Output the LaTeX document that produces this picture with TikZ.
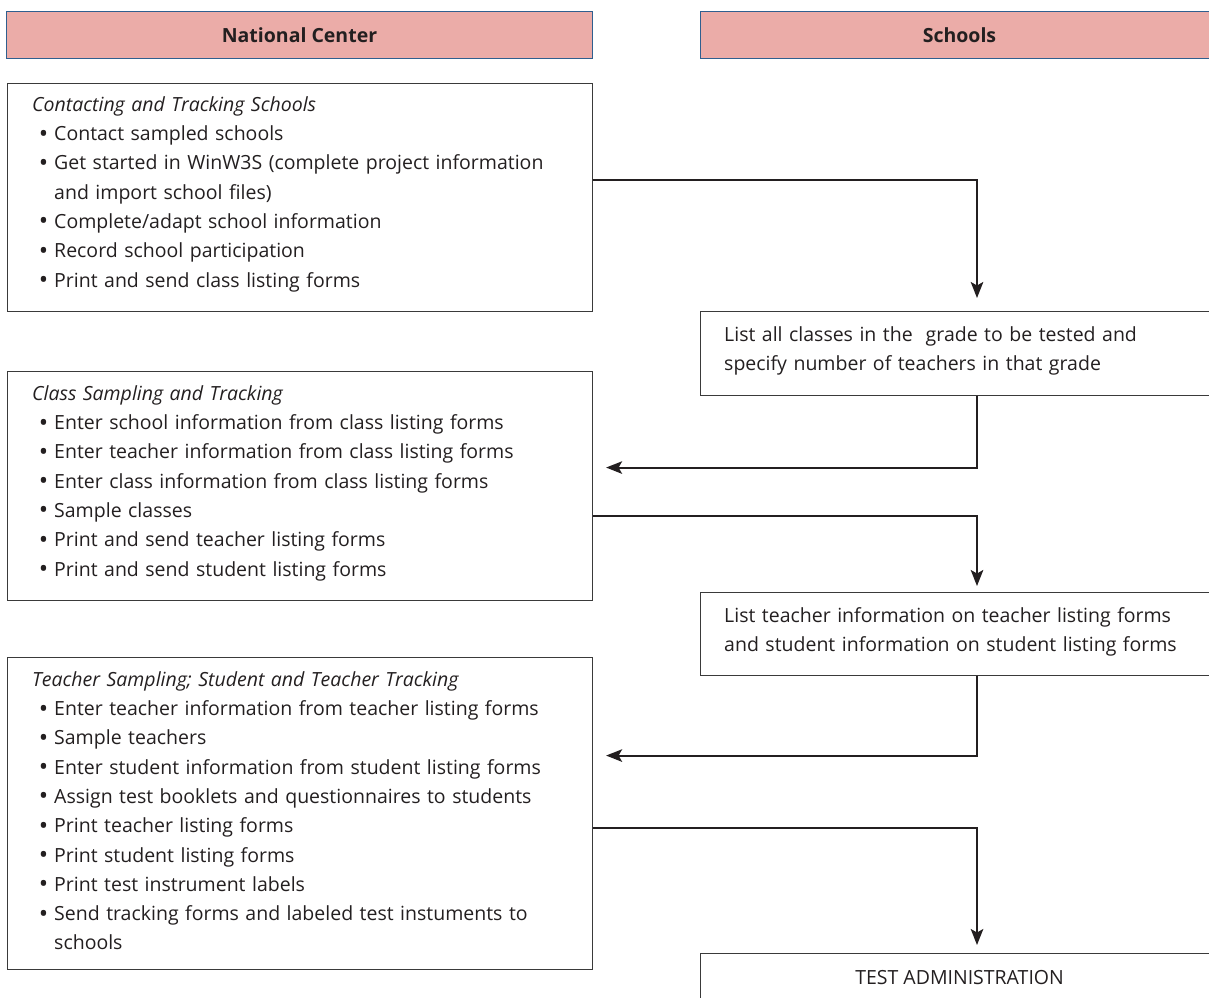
\documentclass[tikz,border=0pt]{standalone}
\usepackage{fontspec}
\setmainfont{Open Sans}
\usetikzlibrary{arrows.meta,calc}
\definecolor{hdrfill}{HTML}{EBACA8}
\definecolor{hdrline}{HTML}{2F5F8F}
\definecolor{ink}{HTML}{231F20}
\definecolor{boxline}{HTML}{3A3A3A}
% bullet item: hanging text with the bullet set in the left margin
\newcommand\bitem{\par\leftskip=22pt\noindent
  \llap{\raisebox{-1.5pt}{\fontsize{25}{0}\selectfont\textbullet}\hspace{6pt}}}
\begin{document}
\begin{tikzpicture}[x=1pt,y=-1pt,
  header/.style={draw=hdrline, line width=1pt, fill=hdrfill, anchor=north west,
    inner sep=0, font=\bfseries\fontsize{19.5}{24}\selectfont, text=ink},
  stepbox/.style={draw=boxline, line width=1.1pt, anchor=north west, inner sep=0},
  boxtext/.style={anchor=north west, inner sep=0, text width=560pt, align=left,
    font=\fontsize{19.5}{29.3}\selectfont, text=ink},
  flow/.style={draw=ink, line width=2pt, -{Stealth[length=16pt,width=12.5pt,inset=3.5pt]}}
]
\useasboundingbox (0,0) rectangle (1209,997);

% column headers
\node[header, minimum width=586pt, minimum height=47pt] (hnc) at (6,11) {National Center};
\node[header, minimum width=518pt, minimum height=47pt] (hsc) at (700,11) {Schools};

% process boxes
\node[stepbox, minimum width=585pt, minimum height=228pt] (b1) at (7,83) {};
\node[stepbox, minimum width=518pt, minimum height=84pt]  (b2) at (700,311) {};
\node[stepbox, minimum width=585pt, minimum height=229pt] (b3) at (7,371) {};
\node[stepbox, minimum width=518pt, minimum height=83pt]  (b4) at (700,592) {};
\node[stepbox, minimum width=585pt, minimum height=312pt] (b5) at (7,657) {};
\node[stepbox, minimum width=518pt, minimum height=48pt, font=\fontsize{19.5}{24}\selectfont, text=ink] (b6) at (700,953) {TEST ADMINISTRATION};

% box contents
\node[boxtext] (t1) at ($(b1.north west)+(25,7.5)$) {\strut\textit{Contacting and Tracking Schools}
  \bitem Contact sampled schools
  \bitem Get started in WinW3S (complete project information\newline and import school files)
  \bitem Complete/adapt school information
  \bitem Record school participation
  \bitem Print and send class listing forms\par};

\node[boxtext] (t2) at ($(b2.north west)+(24,9.5)$) {\strut List all classes in the\ \ grade to be tested and\newline specify number of teachers in that grade\par};

\node[boxtext] (t3) at ($(b3.north west)+(25,8.5)$) {\strut\textit{Class Sampling and Tracking}
  \bitem Enter school information from class listing forms
  \bitem Enter teacher information from class listing forms
  \bitem Enter class information from class listing forms
  \bitem Sample classes
  \bitem Print and send teacher listing forms
  \bitem Print and send student listing forms\par};

\node[boxtext] (t4) at ($(b4.north west)+(24,9.5)$) {\strut List teacher information on teacher listing forms\newline and student information on student listing forms\par};

\node[boxtext] (t5) at ($(b5.north west)+(25,8.5)$) {\strut\textit{Teacher Sampling; Student and Teacher Tracking}
  \bitem Enter teacher information from teacher listing forms
  \bitem Sample teachers
  \bitem Enter student information from student listing forms
  \bitem Assign test booklets and questionnaires to students
  \bitem Print teacher listing forms
  \bitem Print student listing forms
  \bitem Print test instrument labels
  \bitem Send tracking forms and labeled test instuments to\newline schools\par};

% flow between the two columns
\coordinate (col) at (977,0);
\draw[flow] ($(b1.east)+(0,-18)$) -| ($(col |- b2.north)+(0,-13)$);
\draw[flow] (col |- b2.south) |- ($(b3.east)+(13,-18.5)$);
\draw[flow] ($(b3.east)+(0,29.5)$) -| ($(col |- b4.north)+(0,-6)$);
\draw[flow] (col |- b4.south) |- ($(b5.east)+(13,-58)$);
\draw[flow] ($(b5.east)+(0,14)$) -| ($(col |- b6.north)+(0,-8)$);
\end{tikzpicture}
\end{document}
